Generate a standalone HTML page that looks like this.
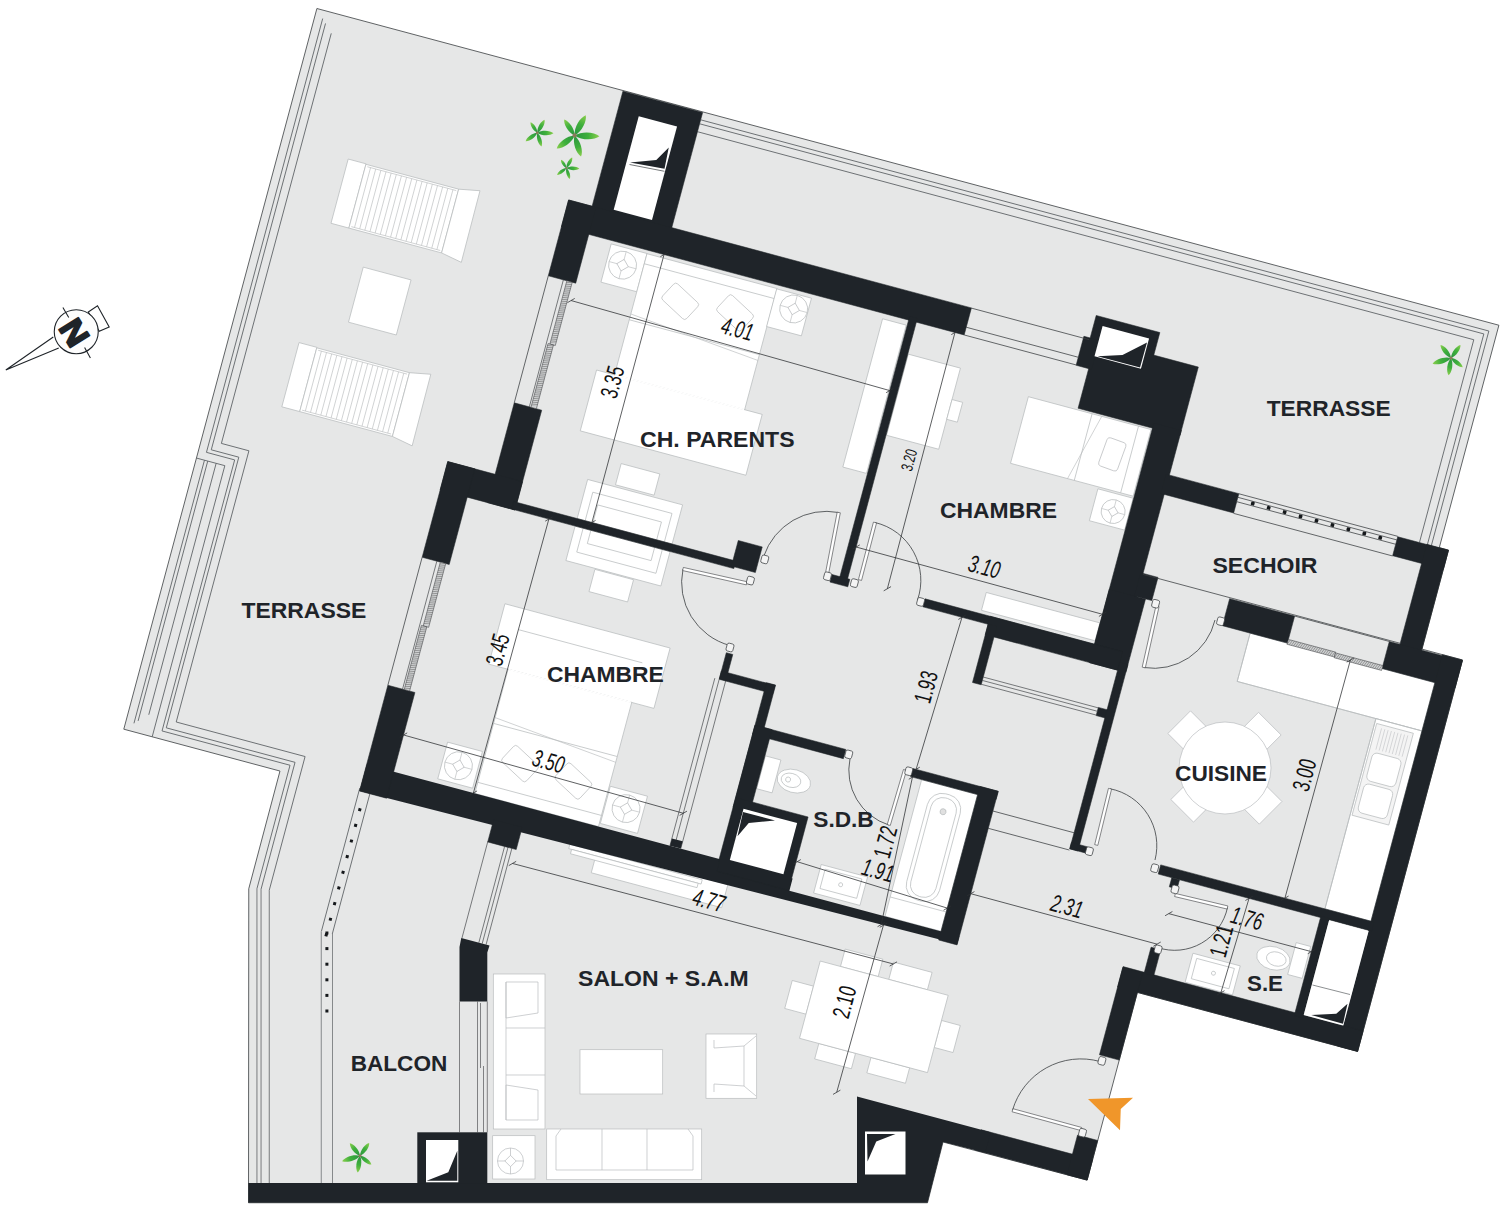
<!DOCTYPE html>
<html><head><meta charset="utf-8"><title>Plan</title>
<style>html,body{margin:0;padding:0;background:#fff}svg{display:block}
text{font-family:"Liberation Sans",sans-serif}
.lb{font-weight:bold;font-size:21.6px;fill:#1f2429}
.dm{font-family:"Liberation Sans Narrow","Liberation Sans",sans-serif;font-size:23px;fill:#111}
</style></head><body>
<svg width="1500" height="1209" viewBox="0 0 1500 1209">
<rect width="1500" height="1209" fill="#fff"/>
<polygon points="316.9,8.51 1498.9,325.23 1439.29,547.68 1448.47,550.14 1421.94,649.14 1462.51,660.01 1357.64,1051.41 1137.4,992.4 1087.12,1180.08 943,1142 927.5,1202.75 248.5,1202.75 248.75,888.75 279.98,771.04 123.79,729.19" fill="#e6e7e7" stroke="#3a3d40" stroke-width="0.8"/>
<line x1="256.95" y1="888.67" x2="256.95" y2="1183" stroke="#5c6063" stroke-width="0.8"/>
<line x1="261.05" y1="889.21" x2="261.05" y2="1183" stroke="#5c6063" stroke-width="0.8"/>
<line x1="269.25" y1="890.29" x2="269.25" y2="1183" stroke="#5c6063" stroke-width="0.8"/>
<path d="M321.25 931.3V1183M332.5 934V1183" stroke="#5c6063" stroke-width="0.7" fill="none"/>
<g transform="rotate(15)">
<rect x="653.5" y="77.4" width="37.1" height="39.6" fill="#fff" stroke="#b9bcbe" stroke-width="0.7"/>
<circle cx="670" cy="95" r="14" fill="#fff" stroke="#b9bcbe" stroke-width="0.7"/>
<path d="M656 95L684 95M670 81L670 109" stroke="#b9bcbe" stroke-width="0.6" fill="none"/>
<rect x="665.8" y="90.8" width="8.4" height="8.4" fill="#fff" stroke="#b9bcbe" stroke-width="0.7" transform="rotate(45 670 95)"/>
<rect x="690.6" y="77.6" width="134.7" height="126.4" fill="#fff" stroke="#b9bcbe" stroke-width="0.7"/>
<line x1="690.6" y1="146" x2="825.3" y2="146" stroke="#b9bcbe" stroke-width="0.7"/>
<line x1="690.6" y1="88" x2="825.3" y2="88" stroke="#b9bcbe" stroke-width="0.7"/>
<line x1="690.6" y1="140" x2="825.3" y2="152" stroke="#b9bcbe" stroke-width="0.6"/>
<rect x="718.5" y="104" width="33" height="22" rx="3" fill="#fff" stroke="#b9bcbe" stroke-width="0.7" transform="rotate(28 735 115)"/>
<rect x="774.5" y="101" width="33" height="22" rx="3" fill="#fff" stroke="#b9bcbe" stroke-width="0.7" transform="rotate(28 791 112)"/>
<rect x="825" y="78" width="36" height="39" fill="#fff" stroke="#b9bcbe" stroke-width="0.7"/>
<circle cx="846.6" cy="93" r="14" fill="#fff" stroke="#b9bcbe" stroke-width="0.7"/>
<path d="M832.6 93L860.6 93M846.6 79L846.6 107" stroke="#b9bcbe" stroke-width="0.6" fill="none"/>
<rect x="842.4" y="88.8" width="8.4" height="8.4" fill="#fff" stroke="#b9bcbe" stroke-width="0.7" transform="rotate(45 846.6 93)"/>
<rect x="672" y="203" width="171.5" height="63" fill="#fff" stroke="#b9bcbe" stroke-width="0.7"/>
<line x1="691.2" y1="203" x2="824.7" y2="203" stroke="#fff" stroke-width="1.6"/>
<rect x="935" y="79.5" width="24.5" height="153.5" fill="#fff" stroke="#b9bcbe" stroke-width="0.7"/>
<rect x="720" y="287" width="40" height="22" fill="#fff" stroke="#b9bcbe" stroke-width="0.7"/>
<rect x="691.7" y="311" width="98.3" height="40.5" fill="#fff" stroke="#b9bcbe" stroke-width="0.7"/>
<rect x="700" y="322" width="82" height="29.5" fill="#fff" stroke="#b9bcbe" stroke-width="0.7"/>
<rect x="708" y="333" width="66" height="18.5" fill="#fff" stroke="#b9bcbe" stroke-width="0.7"/>
<rect x="691.7" y="359.3" width="98.3" height="35.7" fill="#fff" stroke="#b9bcbe" stroke-width="0.7"/>
<rect x="700" y="359.3" width="82" height="24.7" fill="#fff" stroke="#b9bcbe" stroke-width="0.7"/>
<rect x="708" y="359.3" width="66" height="13.7" fill="#fff" stroke="#b9bcbe" stroke-width="0.7"/>
<rect x="722" y="396" width="40" height="23" fill="#fff" stroke="#b9bcbe" stroke-width="0.7"/>
<rect x="644" y="452.5" width="171" height="62.5" fill="#fff" stroke="#b9bcbe" stroke-width="0.7"/>
<rect x="664" y="515" width="128" height="128.5" fill="#fff" stroke="#b9bcbe" stroke-width="0.7"/>
<line x1="664.6" y1="515" x2="791.4" y2="515" stroke="#fff" stroke-width="1.6"/>
<line x1="664" y1="474" x2="792" y2="474" stroke="#b9bcbe" stroke-width="0.7"/>
<line x1="664" y1="571" x2="792" y2="571" stroke="#b9bcbe" stroke-width="0.7"/>
<line x1="664" y1="632" x2="792" y2="632" stroke="#b9bcbe" stroke-width="0.7"/>
<line x1="664" y1="565" x2="792" y2="577" stroke="#b9bcbe" stroke-width="0.6"/>
<rect x="683.5" y="592" width="33" height="22" rx="3" fill="#fff" stroke="#b9bcbe" stroke-width="0.7" transform="rotate(28 700 603)"/>
<rect x="739.5" y="595" width="33" height="22" rx="3" fill="#fff" stroke="#b9bcbe" stroke-width="0.7" transform="rotate(28 756 606)"/>
<rect x="624.4" y="601" width="36.1" height="38" fill="#fff" stroke="#b9bcbe" stroke-width="0.7"/>
<circle cx="641" cy="621" r="14" fill="#fff" stroke="#b9bcbe" stroke-width="0.7"/>
<path d="M627 621L655 621M641 607L641 635" stroke="#b9bcbe" stroke-width="0.6" fill="none"/>
<rect x="636.8" y="616.8" width="8.4" height="8.4" fill="#fff" stroke="#b9bcbe" stroke-width="0.7" transform="rotate(45 641 621)"/>
<rect x="793" y="601.5" width="38.5" height="38.5" fill="#fff" stroke="#b9bcbe" stroke-width="0.7"/>
<circle cx="814" cy="619" r="14" fill="#fff" stroke="#b9bcbe" stroke-width="0.7"/>
<path d="M800 619L828 619M814 605L814 633" stroke="#b9bcbe" stroke-width="0.6" fill="none"/>
<rect x="809.8" y="614.8" width="8.4" height="8.4" fill="#fff" stroke="#b9bcbe" stroke-width="0.7" transform="rotate(45 814 619)"/>
<rect x="969" y="107" width="54" height="84" fill="#fff" stroke="#b9bcbe" stroke-width="0.7"/>
<rect x="1023" y="139.5" width="11" height="20.5" fill="#fff" stroke="#b9bcbe" stroke-width="0.7"/>
<rect x="1096" y="117" width="127" height="69" fill="#fff" stroke="#b9bcbe" stroke-width="0.7"/>
<line x1="1162" y1="117" x2="1162" y2="186" stroke="#b9bcbe" stroke-width="0.7"/>
<line x1="1210" y1="117" x2="1210" y2="186" stroke="#b9bcbe" stroke-width="0.7"/>
<line x1="1172" y1="117" x2="1155" y2="186" stroke="#b9bcbe" stroke-width="0.6"/>
<rect x="1182" y="136" width="20" height="30" rx="3" fill="#fff" stroke="#b9bcbe" stroke-width="0.7" transform="rotate(5 1192 151)"/>
<rect x="1187" y="188" width="36.5" height="33" fill="#fff" stroke="#b9bcbe" stroke-width="0.7"/>
<circle cx="1207.6" cy="206" r="12" fill="#fff" stroke="#b9bcbe" stroke-width="0.7"/>
<path d="M1195.6 206L1219.6 206M1207.6 194L1207.6 218" stroke="#b9bcbe" stroke-width="0.6" fill="none"/>
<rect x="1204" y="202.4" width="7.2" height="7.2" fill="#fff" stroke="#b9bcbe" stroke-width="0.7" transform="rotate(45 1207.6 206)"/>
<rect x="1106" y="317" width="117.6" height="18.5" fill="#fff" stroke="#b9bcbe" stroke-width="0.7"/>
<rect x="1371.4" y="288" width="191.3" height="50" fill="#fff" stroke="#b9bcbe" stroke-width="0.7" stroke="none"/>
<rect x="1515" y="338" width="47.7" height="197" fill="#fff" stroke="#b9bcbe" stroke-width="0.7" stroke="none"/>
<line x1="1515" y1="338" x2="1515" y2="535" stroke="#b9bcbe" stroke-width="0.7"/>
<line x1="1371.4" y1="338" x2="1515" y2="338" stroke="#b9bcbe" stroke-width="0.7"/>
<line x1="1371.4" y1="288" x2="1371.4" y2="338" stroke="#b9bcbe" stroke-width="0.7"/>
<line x1="1515" y1="338" x2="1562.7" y2="338" stroke="#b9bcbe" stroke-width="0.7"/>
<rect x="1517" y="342.5" width="38" height="95" fill="#f4f4f4" stroke="#b9bcbe" stroke-width="0.7"/>
<rect x="1521" y="371" width="30" height="29" rx="5" fill="#fff" stroke="#b9bcbe" stroke-width="0.7"/>
<rect x="1521" y="403" width="30" height="30" rx="5" fill="#fff" stroke="#b9bcbe" stroke-width="0.7"/>
<line x1="1523" y1="346" x2="1523" y2="368" stroke="#b9bcbe" stroke-width="0.5"/>
<line x1="1526.4" y1="346" x2="1526.4" y2="368" stroke="#b9bcbe" stroke-width="0.5"/>
<line x1="1529.8" y1="346" x2="1529.8" y2="368" stroke="#b9bcbe" stroke-width="0.5"/>
<line x1="1533.2" y1="346" x2="1533.2" y2="368" stroke="#b9bcbe" stroke-width="0.5"/>
<line x1="1536.6" y1="346" x2="1536.6" y2="368" stroke="#b9bcbe" stroke-width="0.5"/>
<line x1="1540" y1="346" x2="1540" y2="368" stroke="#b9bcbe" stroke-width="0.5"/>
<line x1="1543.4" y1="346" x2="1543.4" y2="368" stroke="#b9bcbe" stroke-width="0.5"/>
<line x1="1546.8" y1="346" x2="1546.8" y2="368" stroke="#b9bcbe" stroke-width="0.5"/>
<line x1="1550.2" y1="346" x2="1550.2" y2="368" stroke="#b9bcbe" stroke-width="0.5"/>
<rect x="1062" y="698" width="39" height="18" fill="#fff" stroke="#b9bcbe" stroke-width="0.7"/>
<rect x="1112" y="698" width="40" height="18" fill="#fff" stroke="#b9bcbe" stroke-width="0.7"/>
<rect x="1061" y="796" width="38" height="16" fill="#fff" stroke="#b9bcbe" stroke-width="0.7"/>
<rect x="1115" y="796" width="40" height="16" fill="#fff" stroke="#b9bcbe" stroke-width="0.7"/>
<rect x="1019" y="742" width="22" height="29" fill="#fff" stroke="#b9bcbe" stroke-width="0.7"/>
<rect x="1173.5" y="742" width="19.5" height="28" fill="#fff" stroke="#b9bcbe" stroke-width="0.7"/>
<rect x="1041" y="716" width="132.5" height="80" fill="#fff" stroke="#b9bcbe" stroke-width="0.7"/>
<rect x="797" y="666" width="135" height="24" fill="#fff" stroke="#b9bcbe" stroke-width="0.7"/>
<rect x="769" y="668" width="137" height="4.5" fill="#fff" stroke="#b9bcbe" stroke-width="0.7"/>
<rect x="772" y="672.5" width="131" height="4.5" fill="#fff" stroke="#b9bcbe" stroke-width="0.7"/>
<rect x="935" y="532" width="16" height="34" fill="#fff" stroke="#b9bcbe" stroke-width="0.7"/>
<ellipse cx="969" cy="549" rx="17" ry="11.5" fill="#fff" stroke="#b9bcbe" stroke-width="0.7"/>
<ellipse cx="966" cy="549" rx="10" ry="7" fill="#fff" stroke="#b9bcbe" stroke-width="0.7"/>
<circle cx="963" cy="549" r="2.5" fill="#fff" stroke="#b9bcbe" stroke-width="0.7"/>
<rect x="1017" y="622.5" width="48" height="29.5" fill="#fff" stroke="#b9bcbe" stroke-width="0.7"/>
<rect x="1022" y="626" width="38" height="20" fill="#fff" stroke="#b9bcbe" stroke-width="0.7"/>
<circle cx="1041" cy="637" r="2" fill="#fff" stroke="#b9bcbe" stroke-width="0.7"/>
<rect x="1092" y="514.5" width="58" height="141.5" fill="#fff" stroke="#b9bcbe" stroke-width="0.7"/>
<rect x="1104" y="522" width="34" height="110" rx="15" fill="#fff" stroke="#b9bcbe" stroke-width="0.7"/>
<rect x="1108" y="526" width="26" height="102" rx="12" fill="#fff" stroke="#b9bcbe" stroke-width="0.7"/>
<circle cx="1121" cy="540" r="3" fill="#e0e0e0" stroke="#b9bcbe" stroke-width="0.7"/>
<line x1="1092" y1="636" x2="1150" y2="636" stroke="#b9bcbe" stroke-width="0.7"/>
<rect x="1496" y="575" width="15" height="33" fill="#fff" stroke="#b9bcbe" stroke-width="0.7"/>
<ellipse cx="1478" cy="596" rx="17" ry="11.5" fill="#fff" stroke="#b9bcbe" stroke-width="0.7"/>
<ellipse cx="1481" cy="596" rx="10" ry="7" fill="#fff" stroke="#b9bcbe" stroke-width="0.7"/>
<rect x="1399" y="612" width="49" height="30" fill="#fff" stroke="#b9bcbe" stroke-width="0.7"/>
<rect x="1404" y="616" width="39" height="21" fill="#fff" stroke="#b9bcbe" stroke-width="0.7"/>
<circle cx="1424" cy="626" r="2" fill="#fff" stroke="#b9bcbe" stroke-width="0.7"/>
<polyline points="707.8,-65.6 1523.8,-65.6 1523.8,156.5" fill="none" stroke="#5c6063" stroke-width="0.8"/>
<polyline points="707.8,-61.5 1519.7,-61.5 1519.7,156.5" fill="none" stroke="#5c6063" stroke-width="0.8"/>
<polyline points="707.8,-53.3 1511.5,-53.3 1511.5,156.5" fill="none" stroke="#5c6063" stroke-width="0.8"/>
<polyline points="316.5,-65.6 316.5,383.5 345.7,383.5 345.7,664.1 478.2,664.1 478.2,791.89" fill="none" stroke="#5c6063" stroke-width="0.8"/>
<polyline points="320.5,-61.6 320.5,379.8 349,379.8 349,660 482.3,660 482.3,791.35" fill="none" stroke="#5c6063" stroke-width="0.8"/>
<polyline points="328.6,-53.5 328.6,371 357.1,371 357.1,651.8 490.5,651.8 490.5,790.27" fill="none" stroke="#5c6063" stroke-width="0.8"/>
<polyline points="308.3,391.6 337.7,391.6 337.7,672.3" fill="none" stroke="#5c6063" stroke-width="0.8"/>
<polyline points="316.6,391.6 316.6,664" fill="none" stroke="#5c6063" stroke-width="0.8"/>
<polyline points="320,391.6 320,660.6" fill="none" stroke="#5c6063" stroke-width="0.8"/>
<polyline points="328.7,391.6 328.7,651.9" fill="none" stroke="#5c6063" stroke-width="0.8"/>
<rect x="377.5" y="63.5" width="18.5" height="66.5" fill="#fff" stroke="#b9bcbe" stroke-width="0.7"/>
<rect x="396" y="64" width="96" height="66" fill="#fff" stroke="#b9bcbe" stroke-width="0.7"/>
<polygon points="492,64 513,60 513.5,134 492,130" fill="#fff" stroke="#b9bcbe" stroke-width="0.7"/>
<line x1="401.33" y1="66" x2="401.33" y2="128" stroke="#b9bcbe" stroke-width="0.6"/>
<line x1="406.66" y1="66" x2="406.66" y2="128" stroke="#b9bcbe" stroke-width="0.6"/>
<line x1="411.99" y1="66" x2="411.99" y2="128" stroke="#b9bcbe" stroke-width="0.6"/>
<line x1="417.32" y1="66" x2="417.32" y2="128" stroke="#b9bcbe" stroke-width="0.6"/>
<line x1="422.65" y1="66" x2="422.65" y2="128" stroke="#b9bcbe" stroke-width="0.6"/>
<line x1="427.98" y1="66" x2="427.98" y2="128" stroke="#b9bcbe" stroke-width="0.6"/>
<line x1="433.31" y1="66" x2="433.31" y2="128" stroke="#b9bcbe" stroke-width="0.6"/>
<line x1="438.64" y1="66" x2="438.64" y2="128" stroke="#b9bcbe" stroke-width="0.6"/>
<line x1="443.97" y1="66" x2="443.97" y2="128" stroke="#b9bcbe" stroke-width="0.6"/>
<line x1="449.3" y1="66" x2="449.3" y2="128" stroke="#b9bcbe" stroke-width="0.6"/>
<line x1="454.63" y1="66" x2="454.63" y2="128" stroke="#b9bcbe" stroke-width="0.6"/>
<line x1="459.96" y1="66" x2="459.96" y2="128" stroke="#b9bcbe" stroke-width="0.6"/>
<line x1="465.29" y1="66" x2="465.29" y2="128" stroke="#b9bcbe" stroke-width="0.6"/>
<line x1="470.62" y1="66" x2="470.62" y2="128" stroke="#b9bcbe" stroke-width="0.6"/>
<line x1="475.95" y1="66" x2="475.95" y2="128" stroke="#b9bcbe" stroke-width="0.6"/>
<line x1="481.28" y1="66" x2="481.28" y2="128" stroke="#b9bcbe" stroke-width="0.6"/>
<line x1="486.61" y1="66" x2="486.61" y2="128" stroke="#b9bcbe" stroke-width="0.6"/>
<line x1="398" y1="66" x2="490" y2="66" stroke="#b9bcbe" stroke-width="0.6"/>
<line x1="398" y1="128" x2="490" y2="128" stroke="#b9bcbe" stroke-width="0.6"/>
<rect x="377.5" y="253.5" width="18.5" height="66.5" fill="#fff" stroke="#b9bcbe" stroke-width="0.7"/>
<rect x="396" y="254" width="96" height="66" fill="#fff" stroke="#b9bcbe" stroke-width="0.7"/>
<polygon points="492,254 513,250 513.5,324 492,320" fill="#fff" stroke="#b9bcbe" stroke-width="0.7"/>
<line x1="401.33" y1="256" x2="401.33" y2="318" stroke="#b9bcbe" stroke-width="0.6"/>
<line x1="406.66" y1="256" x2="406.66" y2="318" stroke="#b9bcbe" stroke-width="0.6"/>
<line x1="411.99" y1="256" x2="411.99" y2="318" stroke="#b9bcbe" stroke-width="0.6"/>
<line x1="417.32" y1="256" x2="417.32" y2="318" stroke="#b9bcbe" stroke-width="0.6"/>
<line x1="422.65" y1="256" x2="422.65" y2="318" stroke="#b9bcbe" stroke-width="0.6"/>
<line x1="427.98" y1="256" x2="427.98" y2="318" stroke="#b9bcbe" stroke-width="0.6"/>
<line x1="433.31" y1="256" x2="433.31" y2="318" stroke="#b9bcbe" stroke-width="0.6"/>
<line x1="438.64" y1="256" x2="438.64" y2="318" stroke="#b9bcbe" stroke-width="0.6"/>
<line x1="443.97" y1="256" x2="443.97" y2="318" stroke="#b9bcbe" stroke-width="0.6"/>
<line x1="449.3" y1="256" x2="449.3" y2="318" stroke="#b9bcbe" stroke-width="0.6"/>
<line x1="454.63" y1="256" x2="454.63" y2="318" stroke="#b9bcbe" stroke-width="0.6"/>
<line x1="459.96" y1="256" x2="459.96" y2="318" stroke="#b9bcbe" stroke-width="0.6"/>
<line x1="465.29" y1="256" x2="465.29" y2="318" stroke="#b9bcbe" stroke-width="0.6"/>
<line x1="470.62" y1="256" x2="470.62" y2="318" stroke="#b9bcbe" stroke-width="0.6"/>
<line x1="475.95" y1="256" x2="475.95" y2="318" stroke="#b9bcbe" stroke-width="0.6"/>
<line x1="481.28" y1="256" x2="481.28" y2="318" stroke="#b9bcbe" stroke-width="0.6"/>
<line x1="486.61" y1="256" x2="486.61" y2="318" stroke="#b9bcbe" stroke-width="0.6"/>
<line x1="398" y1="256" x2="490" y2="256" stroke="#b9bcbe" stroke-width="0.6"/>
<line x1="398" y1="318" x2="490" y2="318" stroke="#b9bcbe" stroke-width="0.6"/>
<rect x="420" y="164" width="49.5" height="57" fill="#fff" stroke="#b9bcbe" stroke-width="0.7"/>
<line x1="551.5" y1="668" x2="551.5" y2="816.2" stroke="#5c6063" stroke-width="0.8"/>
<line x1="562.7" y1="668" x2="562.7" y2="816.2" stroke="#5c6063" stroke-width="0.8"/>
<polygon points="552,643.5 993,643.5 993,656 1169,656 1169,664 552,671" fill="#1f2429"/>
<rect x="625.3" y="-73.2" width="82.5" height="123.2" fill="#1f2429" stroke="#1f2429" stroke-width="0.5"/>
<rect x="601" y="46" width="417" height="28" fill="#1f2429" stroke="#1f2429" stroke-width="0.5"/>
<rect x="601" y="46" width="28.4" height="78.5" fill="#1f2429" stroke="#1f2429" stroke-width="0.5"/>
<rect x="601" y="256" width="28.4" height="103.3" fill="#1f2429" stroke="#1f2429" stroke-width="0.5"/>
<rect x="552" y="330" width="77.4" height="29.3" fill="#1f2429" stroke="#1f2429" stroke-width="0.5"/>
<rect x="552" y="330" width="28" height="99" fill="#1f2429" stroke="#1f2429" stroke-width="0.5"/>
<rect x="552" y="561.5" width="28" height="109.5" fill="#1f2429" stroke="#1f2429" stroke-width="0.5"/>
<rect x="689" y="664" width="29.5" height="23" fill="#1f2429" stroke="#1f2429" stroke-width="0.5"/>
<rect x="626" y="351.5" width="230" height="7.8" fill="#1f2429" stroke="#1f2429" stroke-width="0.5"/>
<rect x="853" y="331" width="24.8" height="26.5" fill="#1f2429" stroke="#1f2429" stroke-width="0.5"/>
<rect x="960.5" y="70" width="8" height="273" fill="#1f2429" stroke="#1f2429" stroke-width="0.5"/>
<rect x="952.3" y="339.6" width="18.5" height="7.8" fill="#1f2429" stroke="#1f2429" stroke-width="0.5"/>
<rect x="1140.5" y="21" width="65.9" height="27" fill="#1f2429" stroke="#1f2429" stroke-width="0.5"/>
<rect x="1147" y="44.4" width="105.5" height="70.9" fill="#1f2429" stroke="#1f2429" stroke-width="0.5"/>
<rect x="1134" y="44.3" width="16" height="30" fill="#1f2429" stroke="#1f2429" stroke-width="0.5"/>
<rect x="1224" y="110" width="28.5" height="248" fill="#1f2429" stroke="#1f2429" stroke-width="0.5"/>
<rect x="1224" y="282" width="37.5" height="76" fill="#1f2429" stroke="#1f2429" stroke-width="0.5"/>
<rect x="1250" y="258" width="18" height="24" fill="#1f2429" stroke="#1f2429" stroke-width="0.5"/>
<rect x="1048.5" y="339" width="204.5" height="8.3" fill="#1f2429" stroke="#1f2429" stroke-width="0.5"/>
<rect x="1116" y="339" width="137" height="19" fill="#1f2429" stroke="#1f2429" stroke-width="0.5"/>
<rect x="1116" y="347" width="9" height="60.5" fill="#1f2429" stroke="#1f2429" stroke-width="0.5"/>
<rect x="1244" y="399" width="12" height="8.5" fill="#1f2429" stroke="#1f2429" stroke-width="0.5"/>
<rect x="1253" y="350" width="8.5" height="193" fill="#1f2429" stroke="#1f2429" stroke-width="0.5"/>
<rect x="1253" y="536.5" width="17" height="6.5" fill="#1f2429" stroke="#1f2429" stroke-width="0.5"/>
<rect x="1249" y="156.2" width="75.4" height="20" fill="#1f2429" stroke="#1f2429" stroke-width="0.5"/>
<rect x="1489" y="156.7" width="52.5" height="19.6" fill="#1f2429" stroke="#1f2429" stroke-width="0.5"/>
<rect x="1519" y="156.5" width="22.5" height="105.5" fill="#1f2429" stroke="#1f2429" stroke-width="0.5"/>
<rect x="1342.7" y="260" width="67.3" height="28" fill="#1f2429" stroke="#1f2429" stroke-width="0.5"/>
<rect x="1508" y="260" width="75.5" height="28" fill="#1f2429" stroke="#1f2429" stroke-width="0.5"/>
<rect x="1562.7" y="259" width="20.8" height="405.2" fill="#1f2429" stroke="#1f2429" stroke-width="0.5"/>
<rect x="1345" y="535" width="221" height="9.5" fill="#1f2429" stroke="#1f2429" stroke-width="0.5"/>
<rect x="1359" y="544.5" width="8" height="9.5" fill="#1f2429" stroke="#1f2429" stroke-width="0.5"/>
<rect x="1335" y="643" width="248.4" height="21.2" fill="#1f2429" stroke="#1f2429" stroke-width="0.5"/>
<rect x="1335" y="644" width="20.5" height="90.3" fill="#1f2429" stroke="#1f2429" stroke-width="0.5"/>
<rect x="1357" y="617" width="10" height="27" fill="#1f2429" stroke="#1f2429" stroke-width="0.5"/>
<rect x="1513" y="543" width="9" height="103" fill="#1f2429" stroke="#1f2429" stroke-width="0.5"/>
<rect x="1240" y="837.3" width="115.5" height="21.2" fill="#1f2429" stroke="#1f2429" stroke-width="0.5"/>
<rect x="1334.6" y="817.5" width="20.9" height="41" fill="#1f2429" stroke="#1f2429" stroke-width="0.5"/>
<rect x="870.5" y="442.5" width="6.7" height="26.9" fill="#1f2429" stroke="#1f2429" stroke-width="0.5"/>
<rect x="870.5" y="461.4" width="55.5" height="8.6" fill="#1f2429" stroke="#1f2429" stroke-width="0.5"/>
<rect x="917" y="461" width="9.5" height="185" fill="#1f2429" stroke="#1f2429" stroke-width="0.5"/>
<rect x="917" y="505" width="94" height="9.5" fill="#1f2429" stroke="#1f2429" stroke-width="0.5"/>
<rect x="917" y="505" width="17.5" height="85" fill="#1f2429" stroke="#1f2429" stroke-width="0.5"/>
<rect x="918" y="580" width="74" height="76" fill="#1f2429" stroke="#1f2429" stroke-width="0.5"/>
<rect x="1080.5" y="506" width="88.5" height="8.5" fill="#1f2429" stroke="#1f2429" stroke-width="0.5"/>
<rect x="1150" y="506" width="19" height="159" fill="#1f2429" stroke="#1f2429" stroke-width="0.5"/>
<rect x="647.07" y="-53.03" width="39.65" height="96.79" fill="#fff"/>
<rect x="1149.4" y="29.5" width="48.1" height="31.3" fill="#fff"/>
<rect x="927.5" y="588.7" width="55.5" height="53" fill="#fff"/>
<rect x="1522" y="545" width="41" height="98" fill="#fff"/>
<rect x="555.6" y="687.5" width="3" height="3" fill="#15181b"/>
<rect x="555.6" y="703.7" width="3" height="3" fill="#15181b"/>
<rect x="555.6" y="719.9" width="3" height="3" fill="#15181b"/>
<rect x="555.6" y="736.1" width="3" height="3" fill="#15181b"/>
<rect x="555.6" y="752.3" width="3" height="3" fill="#15181b"/>
<rect x="555.6" y="768.5" width="3" height="3" fill="#15181b"/>
<rect x="555.6" y="784.7" width="3" height="3" fill="#15181b"/>
<rect x="555.6" y="800.9" width="3" height="3" fill="#15181b"/>
<rect x="555.6" y="817.1" width="3" height="3" fill="#15181b"/>
<line x1="1324.4" y1="156.3" x2="1489" y2="156.3" stroke="#3a3d40" stroke-width="0.7"/>
<line x1="1324.4" y1="160" x2="1489" y2="160" stroke="#3a3d40" stroke-width="0.7"/>
<line x1="1324.4" y1="164.5" x2="1489" y2="164.5" stroke="#3a3d40" stroke-width="0.7"/>
<line x1="1324.4" y1="176.6" x2="1489" y2="176.6" stroke="#3a3d40" stroke-width="0.7"/>
<rect x="1338.6" y="160.4" width="3.6" height="3.6" fill="#15181b" rx="0.8"/>
<rect x="1355.1" y="160.4" width="3.6" height="3.6" fill="#15181b" rx="0.8"/>
<rect x="1371.6" y="160.4" width="3.6" height="3.6" fill="#15181b" rx="0.8"/>
<rect x="1388.1" y="160.4" width="3.6" height="3.6" fill="#15181b" rx="0.8"/>
<rect x="1404.6" y="160.4" width="3.6" height="3.6" fill="#15181b" rx="0.8"/>
<rect x="1421.1" y="160.4" width="3.6" height="3.6" fill="#15181b" rx="0.8"/>
<rect x="1437.6" y="160.4" width="3.6" height="3.6" fill="#15181b" rx="0.8"/>
<rect x="1454.1" y="160.4" width="3.6" height="3.6" fill="#15181b" rx="0.8"/>
<rect x="1470.6" y="160.4" width="3.6" height="3.6" fill="#15181b" rx="0.8"/>
<line x1="1252.5" y1="259" x2="1519" y2="259" stroke="#3a3d40" stroke-width="0.7"/>
<line x1="1018" y1="46.2" x2="1140" y2="46.2" stroke="#3a3d40" stroke-width="0.7"/>
<line x1="1018" y1="66" x2="1134" y2="66" stroke="#3a3d40" stroke-width="0.7"/>
<line x1="1018" y1="74" x2="1134" y2="74" stroke="#3a3d40" stroke-width="0.7"/>
<line x1="601" y1="124.5" x2="601" y2="256" stroke="#3a3d40" stroke-width="0.7"/>
<line x1="616.6" y1="124.5" x2="616.6" y2="256" stroke="#3a3d40" stroke-width="0.6"/>
<rect x="620.2" y="124.5" width="5.6" height="65.5" fill="#cfd1d2" stroke="#3a3d40" stroke-width="0.5"/>
<path d="M620.2 126.5L625.8 124.5M620.2 128.7L625.8 126.7M620.2 130.9L625.8 128.9M620.2 133.1L625.8 131.1M620.2 135.3L625.8 133.3M620.2 137.5L625.8 135.5M620.2 139.7L625.8 137.7M620.2 141.9L625.8 139.9M620.2 144.1L625.8 142.1M620.2 146.3L625.8 144.3M620.2 148.5L625.8 146.5M620.2 150.7L625.8 148.7M620.2 152.9L625.8 150.9M620.2 155.1L625.8 153.1M620.2 157.3L625.8 155.3M620.2 159.5L625.8 157.5M620.2 161.7L625.8 159.7M620.2 163.9L625.8 161.9M620.2 166.1L625.8 164.1M620.2 168.3L625.8 166.3M620.2 170.5L625.8 168.5M620.2 172.7L625.8 170.7M620.2 174.9L625.8 172.9M620.2 177.1L625.8 175.1M620.2 179.3L625.8 177.3M620.2 181.5L625.8 179.5M620.2 183.7L625.8 181.7M620.2 185.9L625.8 183.9M620.2 188.1L625.8 186.1" stroke="#555" stroke-width="0.45" fill="none"/>
<rect x="618.3" y="190" width="5.6" height="66" fill="#cfd1d2" stroke="#3a3d40" stroke-width="0.5"/>
<path d="M618.3 192L623.9 190M618.3 194.2L623.9 192.2M618.3 196.4L623.9 194.4M618.3 198.6L623.9 196.6M618.3 200.8L623.9 198.8M618.3 203L623.9 201M618.3 205.2L623.9 203.2M618.3 207.4L623.9 205.4M618.3 209.6L623.9 207.6M618.3 211.8L623.9 209.8M618.3 214L623.9 212M618.3 216.2L623.9 214.2M618.3 218.4L623.9 216.4M618.3 220.6L623.9 218.6M618.3 222.8L623.9 220.8M618.3 225L623.9 223M618.3 227.2L623.9 225.2M618.3 229.4L623.9 227.4M618.3 231.6L623.9 229.6M618.3 233.8L623.9 231.8M618.3 236L623.9 234M618.3 238.2L623.9 236.2M618.3 240.4L623.9 238.4M618.3 242.6L623.9 240.6M618.3 244.8L623.9 242.8M618.3 247L623.9 245M618.3 249.2L623.9 247.2M618.3 251.4L623.9 249.4M618.3 253.6L623.9 251.6" stroke="#555" stroke-width="0.45" fill="none"/>
<line x1="552" y1="429" x2="552" y2="561.5" stroke="#3a3d40" stroke-width="0.7"/>
<line x1="567.2" y1="429" x2="567.2" y2="561.5" stroke="#3a3d40" stroke-width="0.6"/>
<rect x="570.8" y="429" width="5.6" height="66" fill="#cfd1d2" stroke="#3a3d40" stroke-width="0.5"/>
<path d="M570.8 431L576.4 429M570.8 433.2L576.4 431.2M570.8 435.4L576.4 433.4M570.8 437.6L576.4 435.6M570.8 439.8L576.4 437.8M570.8 442L576.4 440M570.8 444.2L576.4 442.2M570.8 446.4L576.4 444.4M570.8 448.6L576.4 446.6M570.8 450.8L576.4 448.8M570.8 453L576.4 451M570.8 455.2L576.4 453.2M570.8 457.4L576.4 455.4M570.8 459.6L576.4 457.6M570.8 461.8L576.4 459.8M570.8 464L576.4 462M570.8 466.2L576.4 464.2M570.8 468.4L576.4 466.4M570.8 470.6L576.4 468.6M570.8 472.8L576.4 470.8M570.8 475L576.4 473M570.8 477.2L576.4 475.2M570.8 479.4L576.4 477.4M570.8 481.6L576.4 479.6M570.8 483.8L576.4 481.8M570.8 486L576.4 484M570.8 488.2L576.4 486.2M570.8 490.4L576.4 488.4M570.8 492.6L576.4 490.6" stroke="#555" stroke-width="0.45" fill="none"/>
<rect x="568.9" y="495" width="5.6" height="66.5" fill="#cfd1d2" stroke="#3a3d40" stroke-width="0.5"/>
<path d="M568.9 497L574.5 495M568.9 499.2L574.5 497.2M568.9 501.4L574.5 499.4M568.9 503.6L574.5 501.6M568.9 505.8L574.5 503.8M568.9 508L574.5 506M568.9 510.2L574.5 508.2M568.9 512.4L574.5 510.4M568.9 514.6L574.5 512.6M568.9 516.8L574.5 514.8M568.9 519L574.5 517M568.9 521.2L574.5 519.2M568.9 523.4L574.5 521.4M568.9 525.6L574.5 523.6M568.9 527.8L574.5 525.8M568.9 530L574.5 528M568.9 532.2L574.5 530.2M568.9 534.4L574.5 532.4M568.9 536.6L574.5 534.6M568.9 538.8L574.5 536.8M568.9 541L574.5 539M568.9 543.2L574.5 541.2M568.9 545.4L574.5 543.4M568.9 547.6L574.5 545.6M568.9 549.8L574.5 547.8M568.9 552L574.5 550M568.9 554.2L574.5 552.2M568.9 556.4L574.5 554.4M568.9 558.6L574.5 556.6M568.9 560.8L574.5 558.8" stroke="#555" stroke-width="0.45" fill="none"/>
<line x1="1410" y1="260" x2="1508" y2="260" stroke="#3a3d40" stroke-width="0.7"/>
<rect x="1410" y="284.2" width="49" height="5" fill="#cfd1d2" stroke="#3a3d40" stroke-width="0.5"/>
<path d="M1410 289.2L1412 284.2M1412.2 289.2L1414.2 284.2M1414.4 289.2L1416.4 284.2M1416.6 289.2L1418.6 284.2M1418.8 289.2L1420.8 284.2M1421 289.2L1423 284.2M1423.2 289.2L1425.2 284.2M1425.4 289.2L1427.4 284.2M1427.6 289.2L1429.6 284.2M1429.8 289.2L1431.8 284.2M1432 289.2L1434 284.2M1434.2 289.2L1436.2 284.2M1436.4 289.2L1438.4 284.2M1438.6 289.2L1440.6 284.2M1440.8 289.2L1442.8 284.2M1443 289.2L1445 284.2M1445.2 289.2L1447.2 284.2M1447.4 289.2L1449.4 284.2M1449.6 289.2L1451.6 284.2M1451.8 289.2L1453.8 284.2M1454 289.2L1456 284.2M1456.2 289.2L1458.2 284.2" stroke="#555" stroke-width="0.45" fill="none"/>
<rect x="1459" y="285" width="49" height="5" fill="#cfd1d2" stroke="#3a3d40" stroke-width="0.5"/>
<path d="M1459 290L1461 285M1461.2 290L1463.2 285M1463.4 290L1465.4 285M1465.6 290L1467.6 285M1467.8 290L1469.8 285M1470 290L1472 285M1472.2 290L1474.2 285M1474.4 290L1476.4 285M1476.6 290L1478.6 285M1478.8 290L1480.8 285M1481 290L1483 285M1483.2 290L1485.2 285M1485.4 290L1487.4 285M1487.6 290L1489.6 285M1489.8 290L1491.8 285M1492 290L1494 285M1494.2 290L1496.2 285M1496.4 290L1498.4 285M1498.6 290L1500.6 285M1500.8 290L1502.8 285M1503 290L1505 285M1505.2 290L1507.2 285" stroke="#555" stroke-width="0.45" fill="none"/>
<line x1="689" y1="686.5" x2="689" y2="786.7" stroke="#3a3d40" stroke-width="0.6"/>
<line x1="706.5" y1="686.5" x2="706.5" y2="786.7" stroke="#3a3d40" stroke-width="0.6"/>
<line x1="710" y1="686.5" x2="710" y2="786.7" stroke="#3a3d40" stroke-width="0.6"/>
<line x1="714" y1="686.5" x2="714" y2="786.7" stroke="#3a3d40" stroke-width="0.6"/>
<line x1="866" y1="470" x2="866" y2="643.5" stroke="#3a3d40" stroke-width="0.6"/>
<line x1="870.5" y1="470" x2="870.5" y2="643.5" stroke="#3a3d40" stroke-width="0.6"/>
<line x1="877.2" y1="470" x2="877.2" y2="643.5" stroke="#3a3d40" stroke-width="0.6"/>
<rect x="866" y="636" width="11.2" height="7.5" fill="#1f2429"/>
<line x1="1125" y1="399.5" x2="1244" y2="399.5" stroke="#3a3d40" stroke-width="0.6"/>
<line x1="1125" y1="403" x2="1244" y2="403" stroke="#3a3d40" stroke-width="0.6"/>
<line x1="1125" y1="407" x2="1244" y2="407" stroke="#3a3d40" stroke-width="0.6"/>
<line x1="1169" y1="526.4" x2="1253" y2="526.4" stroke="#3a3d40" stroke-width="0.7"/>
<line x1="1169" y1="544.3" x2="1253" y2="544.3" stroke="#3a3d40" stroke-width="0.7"/>
</g>
<polygon points="248.3,1183 857,1183 857,1096.5 990.7,1132.29 985.21,1152.77 943,1142 927.5,1202.75 248.3,1202.75" fill="#1f2429"/>
<rect x="865" y="1131.5" width="40.5" height="43" fill="#fff"/>
<rect x="417.3" y="1132.3" width="70" height="51" fill="#1f2429"/>
<rect x="426" y="1140" width="32.3" height="42.3" fill="#fff"/>
<polygon points="461.25,938 489.5,945.5 487.3,952.5 487.3,1001.5 459.5,1001.5 459.5,947" fill="#1f2429"/>
<rect x="1174.5" y="717.5" width="32" height="32" fill="#fff" stroke="#b9bcbe" stroke-width="0.7" transform="rotate(45 1190.5 733.5)"/>
<rect x="1242.5" y="719" width="32" height="32" fill="#fff" stroke="#b9bcbe" stroke-width="0.7" transform="rotate(45 1258.5 735)"/>
<rect x="1177.5" y="783.5" width="32" height="32" fill="#fff" stroke="#b9bcbe" stroke-width="0.7" transform="rotate(45 1193.5 799.5)"/>
<rect x="1243.3" y="785.5" width="32" height="32" fill="#fff" stroke="#b9bcbe" stroke-width="0.7" transform="rotate(45 1259.3 801.5)"/>
<circle cx="1225" cy="768" r="46" fill="#fff" stroke="#b9bcbe" stroke-width="0.7"/>
<rect x="493.3" y="974" width="51.7" height="155" fill="#fff" stroke="#b9bcbe" stroke-width="0.7"/>
<path d="M506 982H538V1013L506 1018ZM506 1120H538V1090L506 1085ZM506 1028H545M506 1075H545M506 982V1120" fill="none" stroke="#b9bcbe" stroke-width="0.7"/>
<rect x="492.7" y="1135.7" width="42.3" height="43.3" fill="#fff" stroke="#b9bcbe" stroke-width="0.7"/>
<circle cx="510.5" cy="1161" r="13" fill="#fff" stroke="#b9bcbe" stroke-width="0.7"/><path d="M497.5 1161H523.5M510.5 1148V1174" fill="none" stroke="#b9bcbe" stroke-width="0.7"/><rect x="506.5" y="1157" width="8" height="8" fill="#fff" stroke="#b9bcbe" stroke-width="0.7" transform="rotate(45 510.5 1161)"/>
<rect x="546.7" y="1129" width="155" height="50.7" fill="#fff" stroke="#b9bcbe" stroke-width="0.7"/>
<path d="M556 1136V1170H693V1136M602 1129V1170M647 1129V1170M556 1136L561 1129M693 1136L688 1129" fill="none" stroke="#b9bcbe" stroke-width="0.7"/>
<rect x="580" y="1049.7" width="82.7" height="44.3" fill="#fff" stroke="#b9bcbe" stroke-width="0.7"/>
<rect x="706" y="1034" width="50.7" height="64.3" fill="#fff" stroke="#b9bcbe" stroke-width="0.7"/>
<path d="M714 1040V1048L744 1046L756 1036M714 1092V1084L744 1086L756 1096M744 1046V1086" fill="none" stroke="#b9bcbe" stroke-width="0.7"/>
<rect x="325.4" y="931.5" width="3" height="3" fill="#15181b"/>
<rect x="325.4" y="947.1" width="3" height="3" fill="#15181b"/>
<rect x="325.4" y="962.7" width="3" height="3" fill="#15181b"/>
<rect x="325.4" y="978.3" width="3" height="3" fill="#15181b"/>
<rect x="325.4" y="993.9" width="3" height="3" fill="#15181b"/>
<rect x="325.4" y="1009.5" width="3" height="3" fill="#15181b"/>
<path d="M459.5 1001.5V1132.3M477.5 1001.5V1132.3M480.5 1003V1068M483.5 1066V1132.3M487.3 1001.5V1132.3" stroke="#3a3d40" stroke-width="0.6" fill="none"/>
<path d="M683 569A65.29 65.29 0 0 0 730 645.5" stroke="#3a3d40" stroke-width="0.8" fill="none"/>
<path d="M747.05 581.74L683.35 567.44L682.65 570.56L746.35 584.86Z" stroke="#3a3d40" stroke-width="0.6" fill="#fff"/>
<path d="M838.75 512.5A66.19 66.19 0 0 0 763.75 556.25" stroke="#3a3d40" stroke-width="0.8" fill="none"/>
<path d="M827.82 577.8L840.32 512.8L837.18 512.2L824.68 577.2Z" stroke="#3a3d40" stroke-width="0.6" fill="#fff"/>
<path d="M875 522.5A59.42 59.42 0 0 1 917.5 600" stroke="#3a3d40" stroke-width="0.8" fill="none"/>
<path d="M861.55 580.4L876.55 522.9L873.45 522.1L858.45 579.6Z" stroke="#3a3d40" stroke-width="0.6" fill="#fff"/>
<path d="M888.75 825A57.35 57.35 0 0 1 850 758.75" stroke="#3a3d40" stroke-width="0.8" fill="none"/>
<path d="M903.47 769.55L887.22 824.55L890.28 825.45L906.53 770.45Z" stroke="#3a3d40" stroke-width="0.6" fill="#fff"/>
<path d="M1110 788.75A57.91 57.91 0 0 1 1155 860" stroke="#3a3d40" stroke-width="0.8" fill="none"/>
<path d="M1097.8 845.38L1111.55 789.13L1108.45 788.37L1094.7 844.62Z" stroke="#3a3d40" stroke-width="0.6" fill="#fff"/>
<path d="M1143.75 667.5A62.77 62.77 0 0 0 1215 620" stroke="#3a3d40" stroke-width="0.8" fill="none"/>
<path d="M1155.94 605.9L1142.19 667.15L1145.31 667.85L1159.06 606.6Z" stroke="#3a3d40" stroke-width="0.6" fill="#fff"/>
<path d="M1227.5 907.5A53.97 53.97 0 0 1 1157.5 947.5" stroke="#3a3d40" stroke-width="0.8" fill="none"/>
<path d="M1174.63 896.56L1227.13 909.06L1227.87 905.94L1175.37 893.44Z" stroke="#3a3d40" stroke-width="0.6" fill="#fff"/>
<path d="M1012.5 1110.25A71.26 71.26 0 0 1 1100 1061.5" stroke="#3a3d40" stroke-width="0.8" fill="none"/>
<path d="M1081.67 1127.46L1012.92 1108.71L1012.08 1111.79L1080.83 1130.54Z" stroke="#3a3d40" stroke-width="0.6" fill="#fff"/>
<rect x="746.9" y="576.6" width="7" height="8" rx="1.8" fill="#f4f4f4" stroke="#3a3d40" stroke-width="0.7" transform="rotate(15 750.4 580.6)"/>
<rect x="726.5" y="643.5" width="7" height="8" rx="1.8" fill="#f4f4f4" stroke="#3a3d40" stroke-width="0.7" transform="rotate(15 730 647.5)"/>
<rect x="761.25" y="555.4" width="7" height="8" rx="1.8" fill="#f4f4f4" stroke="#3a3d40" stroke-width="0.7" transform="rotate(15 764.75 559.4)"/>
<rect x="824" y="572.25" width="7" height="8" rx="1.8" fill="#f4f4f4" stroke="#3a3d40" stroke-width="0.7" transform="rotate(15 827.5 576.25)"/>
<rect x="850.9" y="579.1" width="7" height="8" rx="1.8" fill="#f4f4f4" stroke="#3a3d40" stroke-width="0.7" transform="rotate(15 854.4 583.1)"/>
<rect x="917.1" y="597.9" width="7" height="8" rx="1.8" fill="#f4f4f4" stroke="#3a3d40" stroke-width="0.7" transform="rotate(15 920.6 601.9)"/>
<rect x="845.25" y="750.4" width="7" height="8" rx="1.8" fill="#f4f4f4" stroke="#3a3d40" stroke-width="0.7" transform="rotate(15 848.75 754.4)"/>
<rect x="905.25" y="767.25" width="7" height="8" rx="1.8" fill="#f4f4f4" stroke="#3a3d40" stroke-width="0.7" transform="rotate(15 908.75 771.25)"/>
<rect x="1085.9" y="847.25" width="7" height="8" rx="1.8" fill="#f4f4f4" stroke="#3a3d40" stroke-width="0.7" transform="rotate(15 1089.4 851.25)"/>
<rect x="1151.2" y="864.2" width="7" height="8" rx="1.8" fill="#f4f4f4" stroke="#3a3d40" stroke-width="0.7" transform="rotate(15 1154.7 868.2)"/>
<rect x="1152.1" y="599.75" width="7" height="8" rx="1.8" fill="#f4f4f4" stroke="#3a3d40" stroke-width="0.7" transform="rotate(15 1155.6 603.75)"/>
<rect x="1217.1" y="617.25" width="7" height="8" rx="1.8" fill="#f4f4f4" stroke="#3a3d40" stroke-width="0.7" transform="rotate(15 1220.6 621.25)"/>
<rect x="1171.5" y="885.4" width="7" height="8" rx="1.8" fill="#f4f4f4" stroke="#3a3d40" stroke-width="0.7" transform="rotate(15 1175 889.4)"/>
<rect x="1154.6" y="945.4" width="7" height="8" rx="1.8" fill="#f4f4f4" stroke="#3a3d40" stroke-width="0.7" transform="rotate(15 1158.1 949.4)"/>
<rect x="1098.4" y="1056.9" width="7" height="8" rx="1.8" fill="#f4f4f4" stroke="#3a3d40" stroke-width="0.7" transform="rotate(15 1101.9 1060.9)"/>
<rect x="1079" y="1128.75" width="7" height="8" rx="1.8" fill="#f4f4f4" stroke="#3a3d40" stroke-width="0.7" transform="rotate(15 1082.5 1132.75)"/>
<polygon points="630,162.5 656.25,160 668.75,147.5 664.5,168.75" fill="#1f2429"/>
<line x1="629.5" y1="164.5" x2="664.5" y2="171.3" stroke="#3a3d40" stroke-width="0.7"/>
<polygon points="1097.5,356.25 1122.5,355 1147,342.5 1140,367.5" fill="#1f2429"/>
<polygon points="1311.25,1015 1336.25,1013.75 1347.5,1003.75 1343,1023.75" fill="#1f2429"/>
<line x1="1312.5" y1="985" x2="1350" y2="994.5" stroke="#5c6063" stroke-width="0.7"/>
<polygon points="867,1134 895.5,1134 876.25,1141.5 867.5,1161.5" fill="#1f2429"/>
<polygon points="743,812 775,820.5 748.75,823 737.5,836.25" fill="#1f2429"/>
<polygon points="426.7,1180.7 448.3,1172.3 457.3,1150.7 457.3,1180.7" fill="#1f2429"/>
<polygon points="1088,1099 1133,1097.75 1120.75,1109 1120,1130.25" fill="#f0962a"/>
<defs><linearGradient id="lf" x1="0" y1="0" x2="1" y2="0"><stop offset="0" stop-color="#2a9440"/><stop offset="0.55" stop-color="#3fb03c"/><stop offset="1" stop-color="#8ccf4e"/></linearGradient></defs>
<g transform="translate(574.6 135.4)"><path d="M0 0C6.9 -4.6 18.4 -3.91 23 0C18.4 3.91 6.9 4.6 0 0Z" fill="url(#lf)" transform="rotate(-61)"/><path d="M0 0C7.45 -4.97 19.87 -4.22 24.84 0C19.87 4.22 7.45 4.97 0 0Z" fill="url(#lf)" transform="rotate(2)"/><path d="M0 0C6.62 -4.42 17.66 -3.75 22.08 0C17.66 3.75 6.62 4.42 0 0Z" fill="url(#lf)" transform="rotate(73)"/><path d="M0 0C6.62 -4.42 17.66 -3.75 22.08 0C17.66 3.75 6.62 4.42 0 0Z" fill="url(#lf)" transform="rotate(144)"/><path d="M0 0C5.73 -3.82 15.27 -3.25 19.09 0C15.27 3.25 5.73 3.82 0 0Z" fill="url(#lf)" transform="rotate(-123)"/><circle r="2.07" fill="#8a7a5a"/></g>
<g transform="translate(537.3 132.8)"><path d="M0 0C4.5 -3 12 -2.55 15 0C12 2.55 4.5 3 0 0Z" fill="url(#lf)" transform="rotate(-61)"/><path d="M0 0C4.86 -3.24 12.96 -2.75 16.2 0C12.96 2.75 4.86 3.24 0 0Z" fill="url(#lf)" transform="rotate(2)"/><path d="M0 0C4.32 -2.88 11.52 -2.45 14.4 0C11.52 2.45 4.32 2.88 0 0Z" fill="url(#lf)" transform="rotate(73)"/><path d="M0 0C4.32 -2.88 11.52 -2.45 14.4 0C11.52 2.45 4.32 2.88 0 0Z" fill="url(#lf)" transform="rotate(144)"/><path d="M0 0C3.73 -2.49 9.96 -2.12 12.45 0C9.96 2.12 3.73 2.49 0 0Z" fill="url(#lf)" transform="rotate(-123)"/><circle r="1.35" fill="#8a7a5a"/></g>
<g transform="translate(566.4 168.1)"><path d="M0 0C3.6 -2.4 9.6 -2.04 12 0C9.6 2.04 3.6 2.4 0 0Z" fill="url(#lf)" transform="rotate(-61)"/><path d="M0 0C3.89 -2.59 10.37 -2.2 12.96 0C10.37 2.2 3.89 2.59 0 0Z" fill="url(#lf)" transform="rotate(2)"/><path d="M0 0C3.46 -2.3 9.22 -1.96 11.52 0C9.22 1.96 3.46 2.3 0 0Z" fill="url(#lf)" transform="rotate(73)"/><path d="M0 0C3.46 -2.3 9.22 -1.96 11.52 0C9.22 1.96 3.46 2.3 0 0Z" fill="url(#lf)" transform="rotate(144)"/><path d="M0 0C2.99 -1.99 7.97 -1.69 9.96 0C7.97 1.69 2.99 1.99 0 0Z" fill="url(#lf)" transform="rotate(-123)"/><circle r="1.08" fill="#8a7a5a"/></g>
<g transform="translate(1451 358)"><path d="M0 0C4.99 -3.33 13.3 -2.83 16.62 0C13.3 2.83 4.99 3.33 0 0Z" fill="url(#lf)" transform="rotate(-129)"/><path d="M0 0C4.83 -3.22 12.88 -2.74 16.1 0C12.88 2.74 4.83 3.22 0 0Z" fill="url(#lf)" transform="rotate(-54)"/><path d="M0 0C5.77 -3.85 15.4 -3.27 19.25 0C15.4 3.27 5.77 3.85 0 0Z" fill="url(#lf)" transform="rotate(163)"/><path d="M0 0C5.25 -3.5 14 -2.98 17.5 0C14 2.98 5.25 3.5 0 0Z" fill="url(#lf)" transform="rotate(98)"/><path d="M0 0C4.46 -2.98 11.9 -2.53 14.88 0C11.9 2.53 4.46 2.98 0 0Z" fill="url(#lf)" transform="rotate(38)"/><circle r="1.57" fill="#8a7a5a"/></g>
<g transform="translate(360 1155.7)"><path d="M0 0C4.84 -3.23 12.92 -2.75 16.15 0C12.92 2.75 4.84 3.23 0 0Z" fill="url(#lf)" transform="rotate(-129)"/><path d="M0 0C4.69 -3.13 12.51 -2.66 15.64 0C12.51 2.66 4.69 3.13 0 0Z" fill="url(#lf)" transform="rotate(-54)"/><path d="M0 0C5.61 -3.74 14.96 -3.18 18.7 0C14.96 3.18 5.61 3.74 0 0Z" fill="url(#lf)" transform="rotate(163)"/><path d="M0 0C5.1 -3.4 13.6 -2.89 17 0C13.6 2.89 5.1 3.4 0 0Z" fill="url(#lf)" transform="rotate(98)"/><path d="M0 0C4.33 -2.89 11.56 -2.46 14.45 0C11.56 2.46 4.33 2.89 0 0Z" fill="url(#lf)" transform="rotate(38)"/><circle r="1.53" fill="#8a7a5a"/></g>
<path d="M5.8 370L53.3 337M5.8 370L58.75 348" stroke="#1f2429" stroke-width="1.1" fill="none"/>
<polygon points="88.3,312 97.5,305.8 109.2,327 99.2,331.25" fill="#fff" stroke="#1f2429" stroke-width="1.1"/>
<circle cx="76.25" cy="331.7" r="22" fill="#fdfdfd" stroke="#1f2429" stroke-width="1.1"/>
<path d="M62.9 307.5L68.75 317.5M84.6 347.5L90.4 358" stroke="#1f2429" stroke-width="1.1" fill="none"/>
<g transform="rotate(15)">
<line x1="629.4" y1="142.5" x2="960.5" y2="147" stroke="#2c2f32" stroke-width="0.7"/>
<path d="M626.4 145.5L632.4 139.5" stroke="#2c2f32" stroke-width="0.7" fill="none"/>
<path d="M957.5 150L963.5 144" stroke="#2c2f32" stroke-width="0.7" fill="none"/>
<line x1="707.3" y1="74" x2="707" y2="351.5" stroke="#2c2f32" stroke-width="0.7"/>
<path d="M704.3 77L710.3 71" stroke="#2c2f32" stroke-width="0.7" fill="none"/>
<path d="M704 354.5L710 348.5" stroke="#2c2f32" stroke-width="0.7" fill="none"/>
<line x1="1008.5" y1="74" x2="1009.5" y2="339" stroke="#2c2f32" stroke-width="0.7"/>
<path d="M1005.5 77L1011.5 71" stroke="#2c2f32" stroke-width="0.7" fill="none"/>
<path d="M1006.5 342L1012.5 336" stroke="#2c2f32" stroke-width="0.7" fill="none"/>
<line x1="968.5" y1="306.8" x2="1224" y2="308" stroke="#2c2f32" stroke-width="0.7"/>
<path d="M965.5 309.8L971.5 303.8" stroke="#2c2f32" stroke-width="0.7" fill="none"/>
<path d="M1221 311L1227 305" stroke="#2c2f32" stroke-width="0.7" fill="none"/>
<line x1="664.5" y1="359.3" x2="662.5" y2="643.5" stroke="#2c2f32" stroke-width="0.7"/>
<path d="M661.5 362.3L667.5 356.3" stroke="#2c2f32" stroke-width="0.7" fill="none"/>
<path d="M659.5 646.5L665.5 640.5" stroke="#2c2f32" stroke-width="0.7" fill="none"/>
<line x1="580" y1="605.5" x2="870.5" y2="608.7" stroke="#2c2f32" stroke-width="0.7"/>
<path d="M577 608.5L583 602.5" stroke="#2c2f32" stroke-width="0.7" fill="none"/>
<path d="M867.5 611.7L873.5 605.7" stroke="#2c2f32" stroke-width="0.7" fill="none"/>
<line x1="1089" y1="347.3" x2="1084" y2="506" stroke="#2c2f32" stroke-width="0.7"/>
<path d="M1086 350.3L1092 344.3" stroke="#2c2f32" stroke-width="0.7" fill="none"/>
<path d="M1081 509L1087 503" stroke="#2c2f32" stroke-width="0.7" fill="none"/>
<line x1="1082.5" y1="514.5" x2="1090.5" y2="665" stroke="#2c2f32" stroke-width="0.7"/>
<path d="M1079.5 517.5L1085.5 511.5" stroke="#2c2f32" stroke-width="0.7" fill="none"/>
<path d="M1087.5 668L1093.5 662" stroke="#2c2f32" stroke-width="0.7" fill="none"/>
<line x1="993" y1="626" x2="1150" y2="632" stroke="#2c2f32" stroke-width="0.7"/>
<path d="M990 629L996 623" stroke="#2c2f32" stroke-width="0.7" fill="none"/>
<path d="M1147 635L1153 629" stroke="#2c2f32" stroke-width="0.7" fill="none"/>
<line x1="718.5" y1="701.4" x2="1112.4" y2="699.9" stroke="#2c2f32" stroke-width="0.7"/>
<path d="M715.5 704.4L721.5 698.4" stroke="#2c2f32" stroke-width="0.7" fill="none"/>
<path d="M1109.4 702.9L1115.4 696.9" stroke="#2c2f32" stroke-width="0.7" fill="none"/>
<line x1="1169" y1="612" x2="1362" y2="612.5" stroke="#2c2f32" stroke-width="0.7"/>
<path d="M1166 615L1172 609" stroke="#2c2f32" stroke-width="0.7" fill="none"/>
<path d="M1359 615.5L1365 609.5" stroke="#2c2f32" stroke-width="0.7" fill="none"/>
<line x1="1092.8" y1="665" x2="1090.9" y2="838.5" stroke="#2c2f32" stroke-width="0.7"/>
<path d="M1089.8 668L1095.8 662" stroke="#2c2f32" stroke-width="0.7" fill="none"/>
<path d="M1087.9 841.5L1093.9 835.5" stroke="#2c2f32" stroke-width="0.7" fill="none"/>
<line x1="1475.2" y1="288" x2="1473.6" y2="535" stroke="#2c2f32" stroke-width="0.7"/>
<path d="M1472.2 291L1478.2 285" stroke="#2c2f32" stroke-width="0.7" fill="none"/>
<path d="M1470.6 538L1476.6 532" stroke="#2c2f32" stroke-width="0.7" fill="none"/>
<line x1="1365.4" y1="580" x2="1513" y2="579.8" stroke="#2c2f32" stroke-width="0.7"/>
<path d="M1362.4 583L1368.4 577" stroke="#2c2f32" stroke-width="0.7" fill="none"/>
<path d="M1510 582.8L1516 576.8" stroke="#2c2f32" stroke-width="0.7" fill="none"/>
<line x1="1439" y1="544.5" x2="1436.2" y2="643" stroke="#2c2f32" stroke-width="0.7"/>
<path d="M1436 547.5L1442 541.5" stroke="#2c2f32" stroke-width="0.7" fill="none"/>
<path d="M1433.2 646L1439.2 640" stroke="#2c2f32" stroke-width="0.7" fill="none"/>
</g>
<text x="303.9" y="618.3" class="lb" text-anchor="middle" textLength="125" lengthAdjust="spacingAndGlyphs">TERRASSE</text>
<text x="1328.7" y="416" class="lb" text-anchor="middle" textLength="124" lengthAdjust="spacingAndGlyphs">TERRASSE</text>
<text x="717.3" y="446.75" class="lb" text-anchor="middle" textLength="154.5" lengthAdjust="spacingAndGlyphs">CH. PARENTS</text>
<text x="998.5" y="517.5" class="lb" text-anchor="middle" textLength="117" lengthAdjust="spacingAndGlyphs">CHAMBRE</text>
<text x="605.4" y="682" class="lb" text-anchor="middle" textLength="117" lengthAdjust="spacingAndGlyphs">CHAMBRE</text>
<text x="1265" y="572.5" class="lb" text-anchor="middle" textLength="105" lengthAdjust="spacingAndGlyphs">SECHOIR</text>
<text x="1221" y="780.5" class="lb" text-anchor="middle" textLength="92" lengthAdjust="spacingAndGlyphs">CUISINE</text>
<text x="843.5" y="827" class="lb" text-anchor="middle" textLength="60.5" lengthAdjust="spacingAndGlyphs">S.D.B</text>
<text x="1265" y="991" class="lb" text-anchor="middle" textLength="36" lengthAdjust="spacingAndGlyphs">S.E</text>
<text x="663.4" y="985.5" class="lb" text-anchor="middle" textLength="170.7" lengthAdjust="spacingAndGlyphs">SALON + S.A.M</text>
<text x="399" y="1071.3" class="lb" text-anchor="middle" textLength="96.6" lengthAdjust="spacingAndGlyphs">BALCON</text>
<text transform="translate(737.5 328.5) rotate(15) scale(0.68 1)" y="8.7" text-anchor="middle" font-size="24.3" fill="#111" font-style="italic">4.01</text>
<text transform="translate(612 382) rotate(-75) scale(0.68 1)" y="8.7" text-anchor="middle" font-size="24.3" fill="#111">3.35</text>
<text transform="translate(908.75 460) rotate(-75) scale(0.68 1)" y="5.91" text-anchor="middle" font-size="16.5" fill="#111">3.20</text>
<text transform="translate(984.4 566.4) rotate(15) scale(0.68 1)" y="8.7" text-anchor="middle" font-size="24.3" fill="#111" font-style="italic">3.10</text>
<text transform="translate(497.3 649.6) rotate(-75) scale(0.68 1)" y="8.7" text-anchor="middle" font-size="24.3" fill="#111">3.45</text>
<text transform="translate(548.5 761) rotate(15) scale(0.68 1)" y="8.7" text-anchor="middle" font-size="24.3" fill="#111" font-style="italic">3.50</text>
<text transform="translate(925.6 687) rotate(-75) scale(0.68 1)" y="8.7" text-anchor="middle" font-size="24.3" fill="#111">1.93</text>
<text transform="translate(885 842) rotate(-75) scale(0.68 1)" y="8.7" text-anchor="middle" font-size="24.3" fill="#111">1.72</text>
<text transform="translate(878 870) rotate(15) scale(0.68 1)" y="8.7" text-anchor="middle" font-size="24.3" fill="#111" font-style="italic">1.91</text>
<text transform="translate(709 900) rotate(15) scale(0.68 1)" y="8.7" text-anchor="middle" font-size="24.3" fill="#111" font-style="italic">4.77</text>
<text transform="translate(1067 906) rotate(15) scale(0.68 1)" y="8.7" text-anchor="middle" font-size="24.3" fill="#111" font-style="italic">2.31</text>
<text transform="translate(844 1002) rotate(-75) scale(0.68 1)" y="8.7" text-anchor="middle" font-size="24.3" fill="#111">2.10</text>
<text transform="translate(1304 775) rotate(-75) scale(0.68 1)" y="8.7" text-anchor="middle" font-size="24.3" fill="#111">3.00</text>
<text transform="translate(1247 918) rotate(15) scale(0.68 1)" y="8.7" text-anchor="middle" font-size="24.3" fill="#111" font-style="italic">1.76</text>
<text transform="translate(1221 941) rotate(-75) scale(0.68 1)" y="8.7" text-anchor="middle" font-size="24.3" fill="#111">1.21</text>
<text transform="translate(74.6 332.4) rotate(58) scale(1.08 1)" y="11.8" text-anchor="middle" font-size="33" font-weight="bold" fill="#1f2429" stroke="#1f2429" stroke-width="1.7" stroke-linejoin="round">N</text>
</svg></body></html>
